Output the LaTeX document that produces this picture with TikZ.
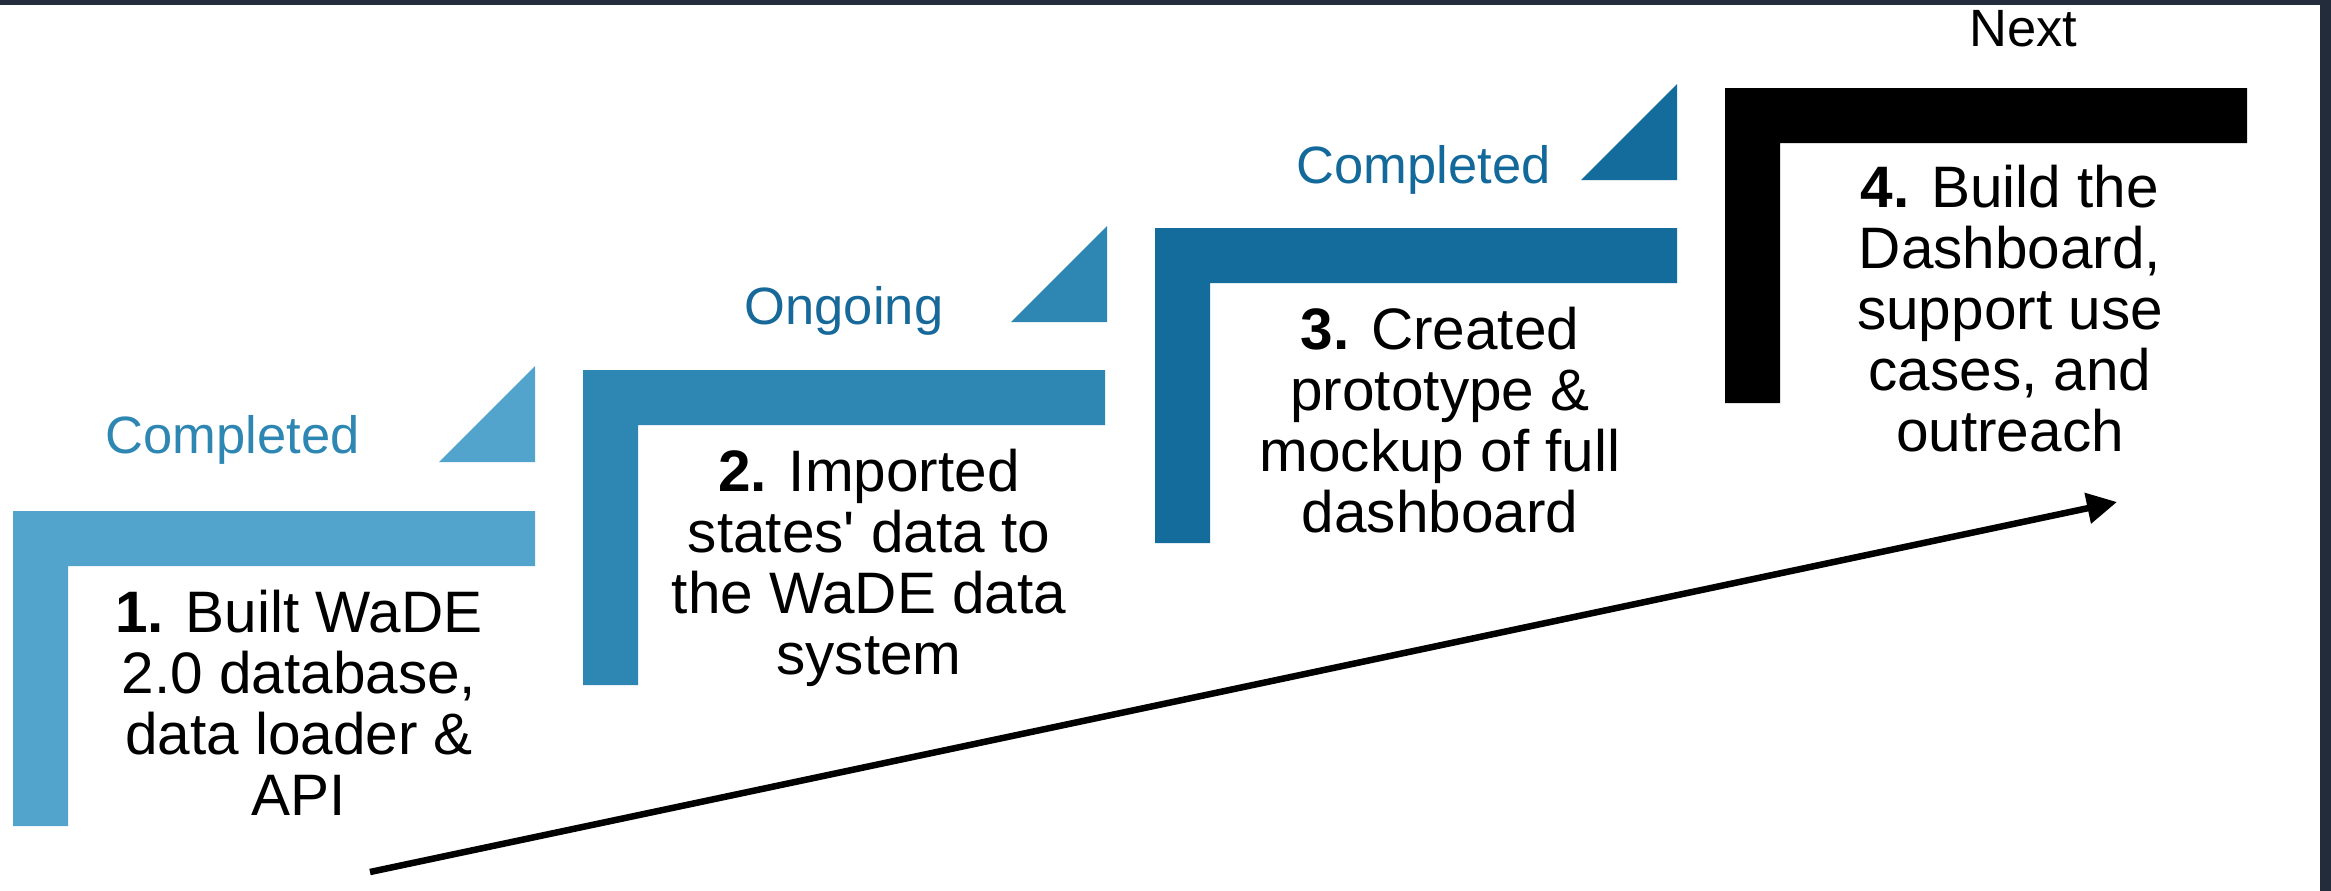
\documentclass[tikz,border=0pt]{standalone}
\usepackage{fontspec}
\setmainfont{Liberation Sans}
\usetikzlibrary{arrows.meta}
\definecolor{cOne}{HTML}{53A4CC}
\definecolor{cTwo}{HTML}{2E86B3}
\definecolor{cThree}{HTML}{136C9C}
\definecolor{cLabOne}{HTML}{2E86B3}
\definecolor{cLabTwo}{HTML}{17699A}
\definecolor{cLabThree}{HTML}{136A9A}
\definecolor{frameDark}{HTML}{232C3A}
\tikzset{
  stepbody/.style={inner sep=0pt, align=center, font=\fontsize{58.5}{61}\selectfont, anchor=base},
  statuslab/.style={inner sep=0pt, font=\fontsize{52.5}{60}\selectfont, anchor=base},
  progarrow/.style={line width=6.5pt, -{Triangle[length=30pt,width=30pt]}},
}
\newcommand{\stepL}[3]{% x0, y0, colour
  \fill[#3] (#1,#2) -- ++(522,0) -- ++(0,55) -- ++(-467,0) -- ++(0,260) -- ++(-55,0) -- cycle;}
\newcommand{\stepTri}[3]{% right x, base y, colour
  \fill[#3] (#1,#2) -- ++(0,-96) -- ++(-96,96) -- cycle;}
\begin{document}
\begin{tikzpicture}[x=1pt,y=-1pt]
\useasboundingbox (0,0) rectangle (2331,891);
\fill[white] (0,0) rectangle (2331,891);
% frame strips
\fill[frameDark] (0,0) rectangle (2331,5);
\fill[frameDark] (2320,0) rectangle (2331,891);
% L shapes
\stepL{13}{511}{cOne}
\stepL{583}{370}{cTwo}
\stepL{1155}{228}{cThree}
\stepL{1725}{88}{black}
% triangles
\stepTri{535}{462}{cOne}
\stepTri{1107}{322}{cTwo}
\stepTri{1677}{180}{cThree}
% status labels
\node[statuslab, text=cLabOne] (s1) at (232.5,453) {Completed};
\node[statuslab, text=cLabTwo] (s2) at (844,324) {Ongoing};
\node[statuslab, text=cLabThree] (s3) at (1423.5,183) {Completed};
\node[statuslab, text=black] (s4) at (2023.5,47) {Next};
% step texts (base anchor = baseline of the last line)
\node[stepbody] (t1) at (299,815) {\textbf{1.} Built WaDE\\2.0 database,\\data loader \&\\API};
\node[stepbody] (t2) at (869,674) {\textbf{2.} Imported\\states\textquotesingle{} data to\\the WaDE data\\system};
\node[stepbody] (t3) at (1440,532) {\textbf{3.} Created\\prototype \&\\mockup of full\\dashboard};
\node[stepbody] (t4) at (2010,451) {\textbf{4.} Build the\\Dashboard,\\support use\\cases, and\\outreach};
% progress arrow
\coordinate (arrS) at (370,872);
\coordinate (arrE) at (2117,502);
\draw[progarrow] (arrS) -- (arrE);
\end{tikzpicture}
\end{document}
